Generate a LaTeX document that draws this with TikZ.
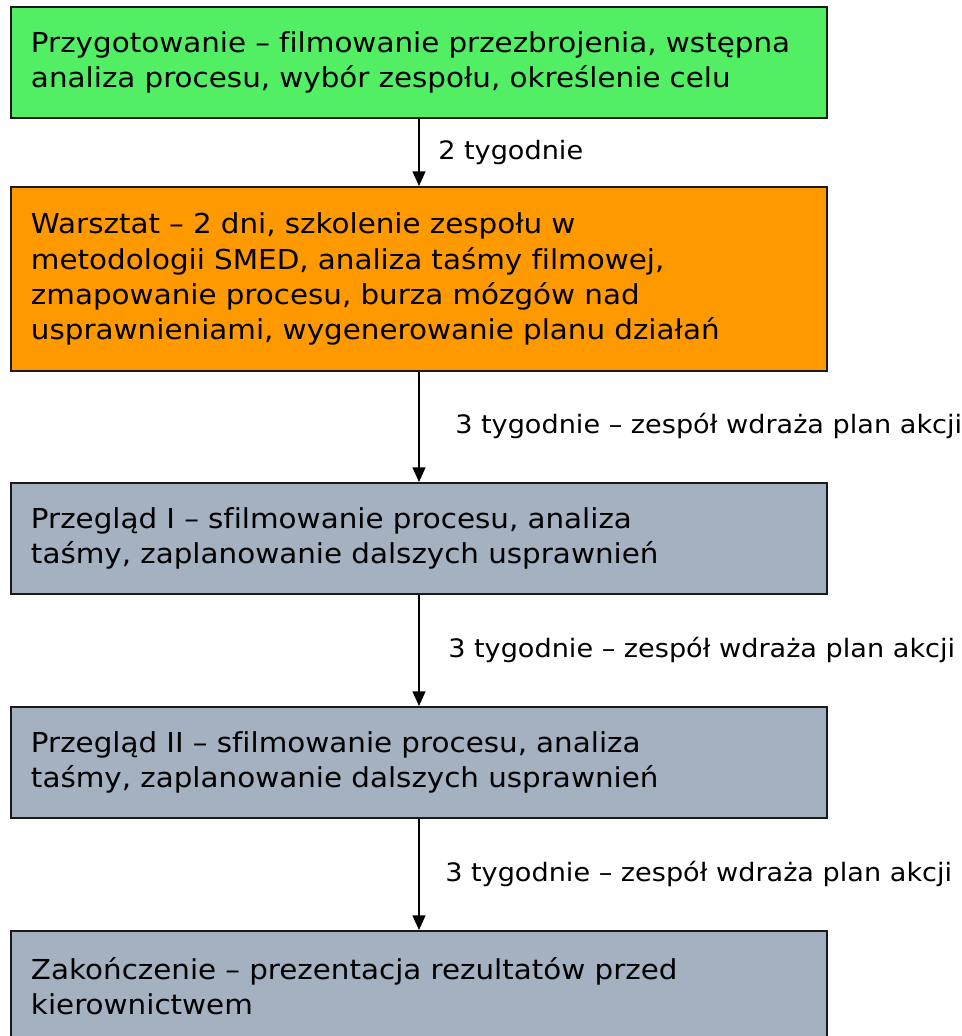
\documentclass[tikz,border=0pt]{standalone}
\usepackage{fontspec}
\setmainfont[FakeStretch=1.07,Ligatures=NoCommon]{DejaVu Sans}
\usepackage{xcolor}
\usepackage{tikz}
\usetikzlibrary{arrows.meta}
\definecolor{prepgreen}{HTML}{52EE63}
\definecolor{workorange}{HTML}{FF9900}
\definecolor{reviewgray}{HTML}{A3B1C0}
\definecolor{edge}{HTML}{1A1A1A}
\newcommand{\BoxFont}{\fontsize{20.6}{26.3}\selectfont}
\newcommand{\NoteFont}{\fontsize{19}{23}\selectfont}

\begin{document}
\begin{tikzpicture}[x=0.75pt,y=-0.75pt,
    stage/.style={draw=edge,line width=1.5pt,anchor=north west,align=left,
      text width=582pt,inner xsep=15pt,inner ysep=0pt,minimum height=83.25pt,
      font=\BoxFont},
    flow/.style={-{Triangle[width=9.75pt,length=11pt]},line width=1pt},
    note/.style={anchor=west,inner sep=0pt,font=\NoteFont}]
          \useasboundingbox (0,0) rectangle (962,1036);
          \node[stage,fill=prepgreen] (prep) at (10,6)
            {Przygotowanie – filmowanie przezbrojenia, wstępna\\analiza procesu, wybór zespołu, określenie celu};
          \node[stage,fill=workorange,minimum height=138pt] (shop) at (10,186)
            {Warsztat – 2 dni, szkolenie zespołu w\\metodologii SMED, analiza taśmy filmowej,\\zmapowanie procesu, burza mózgów nad\\usprawnieniami, wygenerowanie planu działań};
          \node[stage,fill=reviewgray] (revA) at (10,482)
            {Przegląd I – sfilmowanie procesu, analiza\\taśmy, zaplanowanie dalszych usprawnień};
          \node[stage,fill=reviewgray] (revB) at (10,706)
            {Przegląd II – sfilmowanie procesu, analiza\\taśmy, zaplanowanie dalszych usprawnień};
          \node[stage,fill=reviewgray] (done) at (10,930)
            {Zakończenie – prezentacja rezultatów przed\\kierownictwem};
          \draw[flow] (prep.south) -- (shop.north);
          \draw[flow] (shop.south) -- (revA.north);
          \draw[flow] (revA.south) -- (revB.north);
          \draw[flow] (revB.south) -- (done.north);
          \node[note] (wait) at (438,153) {2 tygodnie};
          \node[note] (actA) at (455,426) {3 tygodnie – zespół wdraża plan akcji};
          \node[note] (actB) at (448,650) {3 tygodnie – zespół wdraża plan akcji};
          \node[note] (actC) at (445,874) {3 tygodnie – zespół wdraża plan akcji};
        \end{tikzpicture}
\end{document}
